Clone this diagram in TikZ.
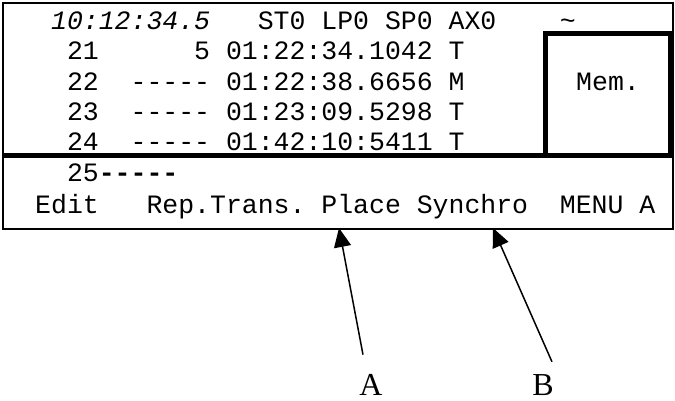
\documentclass[tikz,border=0pt]{standalone}
\usepackage{fontspec}
\setmainfont{Liberation Serif}
\setmonofont{Liberation Mono}
\usetikzlibrary{arrows.meta}
\begin{document}
\begin{tikzpicture}[x=1pt,y=-1pt,
  lcd/.style={anchor=base west, inner sep=0pt, font=\ttfamily\fontsize{26.5}{30}\selectfont},
  lcdc/.style={anchor=base, inner sep=0pt, font=\ttfamily\fontsize{26.5}{30}\selectfont},
  lbl/.style={anchor=base, inner sep=0pt, font=\fontsize{32}{36}\selectfont},
  frame/.style={line width=2pt},
  heavy/.style={line width=5pt},
  pointer/.style={line width=1.5pt, -{Triangle[length=19pt,width=17pt]}}]
\useasboundingbox (0,0) rectangle (675,401);
% frame
\draw[frame] (2.5,3) rectangle (672.5,229);
\draw[heavy] (2,155.5) -- (673,155.5);
\draw[heavy] (545.5,155.5) -- (545.5,34) -- (670.5,34) -- (670.5,155.5);
% header
\node[lcd] (h1) at (50.9,30) {\itshape 10:12:34.5};
\node[lcd] (h2) at (257.6,30) {ST0 LP0 SP0 AX0};
\node[lcd] (h3) at (559.7,30) {\textasciitilde};
% rows
\node[lcd] (r21a) at (66.8,60) {21};
\node[lcd] (r21b) at (194,60) {5 01:22:34.1042 T};
\node[lcd] (r22a) at (66.8,90.5) {22};
\node[lcd] (r22b) at (130.4,90.5) {----- 01:22:38.6656 M};
\node[lcd] (r23a) at (66.8,121) {23};
\node[lcd] (r23b) at (130.4,121) {----- 01:23:09.5298 T};
\node[lcd] (r24a) at (66.8,151) {24};
\node[lcd] (r24b) at (130.4,151) {----- 01:42:10:5411 T};
\node[lcdc] (mem) at (608,90.5) {Mem.};
\node[lcd] (r25a) at (66.8,182) {25};
\node[lcd] (r25b) at (98.6,182) {\bfseries -----};
% menu
\node[lcd] (m1) at (35,213) {Edit};
\node[lcd] (m2) at (146.3,213) {Rep.Trans. Place Synchro};
\node[lcd] (m3) at (559.7,213) {MENU A};
% labels and pointers
\node[lbl] (A) at (371,395) {A};
\node[lbl] (B) at (543,395) {B};
\coordinate (tipA) at (339,228);
\coordinate (tipB) at (493,228);
\draw[pointer] ([xshift=-8pt,yshift=19pt]A.north) -- (tipA);
\draw[pointer] ([xshift=9pt,yshift=12pt]B.north) -- (tipB);
\end{tikzpicture}
\end{document}
